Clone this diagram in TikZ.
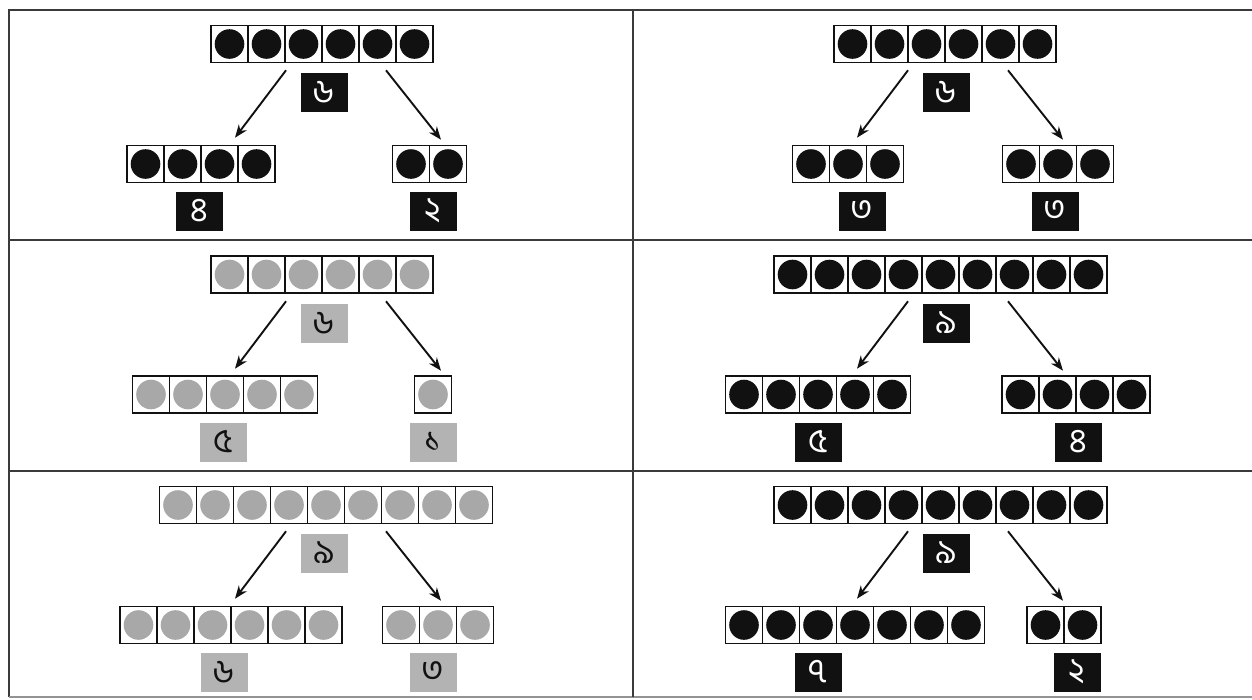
\documentclass[tikz,border=0pt]{standalone}
\usepackage{fontspec}
\usepackage{xcolor}
\usepackage{tikz}
\usetikzlibrary{arrows.meta}
\newfontfamily\bnfont[Script=Bengali]{Hind Siliguri}
\definecolor{cInk}{HTML}{111111}
\definecolor{cBallGrey}{HTML}{A8A8A8}
\definecolor{cTagGrey}{HTML}{B3B3B3}
\definecolor{cRule}{HTML}{3A3A3A}
% one row of cells with a ball in each: name, x, y, count, style
\newcommand{\ballrow}[5]{%
  \foreach \k in {1,...,#4}{
    \node[#5] (#1-\k) at ({#2+(\k-(#4+1)/2)*37},#3) {};
  }%
}

\begin{document}
\begin{tikzpicture}[
  x=1pt,y=-1pt,
  cellk/.style={draw=cInk,line width=1.3pt,minimum size=37pt,inner sep=0pt,
                path picture={\fill[cInk] (path picture bounding box.center) circle[radius=14.8pt];}},
  cellg/.style={draw=cInk,line width=1.3pt,minimum size=37pt,inner sep=0pt,
                path picture={\fill[cBallGrey] (path picture bounding box.center) circle[radius=14.8pt];}},
  numk/.style={fill=cInk,text=white,minimum width=47pt,minimum height=39pt,inner sep=0pt,
               font=\bnfont\fontsize{34}{34}\selectfont},
  numg/.style={fill=cTagGrey,text=cInk,minimum width=47pt,minimum height=39pt,inner sep=0pt,
               font=\bnfont\fontsize{34}{34}\selectfont},
  arr/.style={-{Stealth[length=13pt,width=10pt]},draw=cInk,line width=1.9pt},
  frame/.style={draw=cRule,line width=1.6pt}
]
\useasboundingbox (0,0) rectangle (1252,699);

% ---- moldura
\draw[frame] (1252,10) -- (9,10) -- (9,697);
\draw[frame,draw=cRule!55] (9,697) -- (1252,697);
\draw[frame,line width=1.3pt] (633,10) -- (633,697);
\draw[frame,line width=1.3pt] (9,240) -- (1252,240);
\draw[frame,line width=1.3pt] (9,471) -- (1252,471);

% ---- painel 1: 6 = 4 + 2
\ballrow{a0}{322}{44}{6}{cellk}
\node[numk] (na0) at (324,92) {৬};
\ballrow{a1}{201}{164}{4}{cellk}
\node[numk] (na1) at (199,211) {৪};
\ballrow{a2}{429.5}{164}{2}{cellk}
\node[numk] (na2) at (433,211) {২};
\draw[arr] ([xshift=-38pt,yshift=2pt]na0.north) -- ([xshift=-89pt,yshift=-26pt]na0.south);
\draw[arr] ([xshift=62pt,yshift=2pt]na0.north) -- ([xshift=117pt,yshift=-28pt]na0.south);

% ---- painel 2: 6 = 3 + 3
\ballrow{b0}{945}{44}{6}{cellk}
\node[numk] (nb0) at (946,92) {৬};
\ballrow{b1}{848}{164}{3}{cellk}
\node[numk] (nb1) at (862,211) {৩};
\ballrow{b2}{1058}{164}{3}{cellk}
\node[numk] (nb2) at (1055,211) {৩};
\draw[arr] ([xshift=-38pt,yshift=2pt]nb0.north) -- ([xshift=-89pt,yshift=-26pt]nb0.south);
\draw[arr] ([xshift=62pt,yshift=2pt]nb0.north) -- ([xshift=117pt,yshift=-28pt]nb0.south);

% ---- painel 3: 6 = 5 + 1 (cinza)
\ballrow{c0}{322}{274.5}{6}{cellg}
\node[numg] (nc0) at (324,323) {৬};
\ballrow{c1}{225}{394.5}{5}{cellg}
\node[numg] (nc1) at (223,442) {৫};
\ballrow{c2}{433}{394.5}{1}{cellg}
\node[numg] (nc2) at (433,442) {১};
\draw[arr] ([xshift=-38pt,yshift=2pt]nc0.north) -- ([xshift=-89pt,yshift=-26pt]nc0.south);
\draw[arr] ([xshift=62pt,yshift=2pt]nc0.north) -- ([xshift=117pt,yshift=-28pt]nc0.south);

% ---- painel 4: 9 = 5 + 4
\ballrow{d0}{940.5}{274.5}{9}{cellk}
\node[numk] (nd0) at (946,323) {৯};
\ballrow{d1}{818}{394.5}{5}{cellk}
\node[numk] (nd1) at (818,442) {৫};
\ballrow{d2}{1076}{394.5}{4}{cellk}
\node[numk] (nd2) at (1078,442) {৪};
\draw[arr] ([xshift=-38pt,yshift=2pt]nd0.north) -- ([xshift=-89pt,yshift=-26pt]nd0.south);
\draw[arr] ([xshift=62pt,yshift=2pt]nd0.north) -- ([xshift=117pt,yshift=-28pt]nd0.south);

% ---- painel 5: 9 = 6 + 3 (cinza)
\ballrow{e0}{326}{505}{9}{cellg}
\node[numg] (ne0) at (324,553) {৯};
\ballrow{e1}{231}{625}{6}{cellg}
\node[numg] (ne1) at (224,672) {৬};
\ballrow{e2}{438}{625}{3}{cellg}
\node[numg] (ne2) at (433,672) {৩};
\draw[arr] ([xshift=-38pt,yshift=2pt]ne0.north) -- ([xshift=-89pt,yshift=-26pt]ne0.south);
\draw[arr] ([xshift=62pt,yshift=2pt]ne0.north) -- ([xshift=117pt,yshift=-28pt]ne0.south);

% ---- painel 6: 9 = 7 + 2
\ballrow{f0}{940.5}{505}{9}{cellk}
\node[numk] (nf0) at (946,553) {৯};
\ballrow{f1}{855}{625}{7}{cellk}
\node[numk] (nf1) at (818,672) {৭};
\ballrow{f2}{1064}{625}{2}{cellk}
\node[numk] (nf2) at (1077,672) {২};
\draw[arr] ([xshift=-38pt,yshift=2pt]nf0.north) -- ([xshift=-89pt,yshift=-26pt]nf0.south);
\draw[arr] ([xshift=62pt,yshift=2pt]nf0.north) -- ([xshift=117pt,yshift=-28pt]nf0.south);
\end{tikzpicture}
\end{document}
